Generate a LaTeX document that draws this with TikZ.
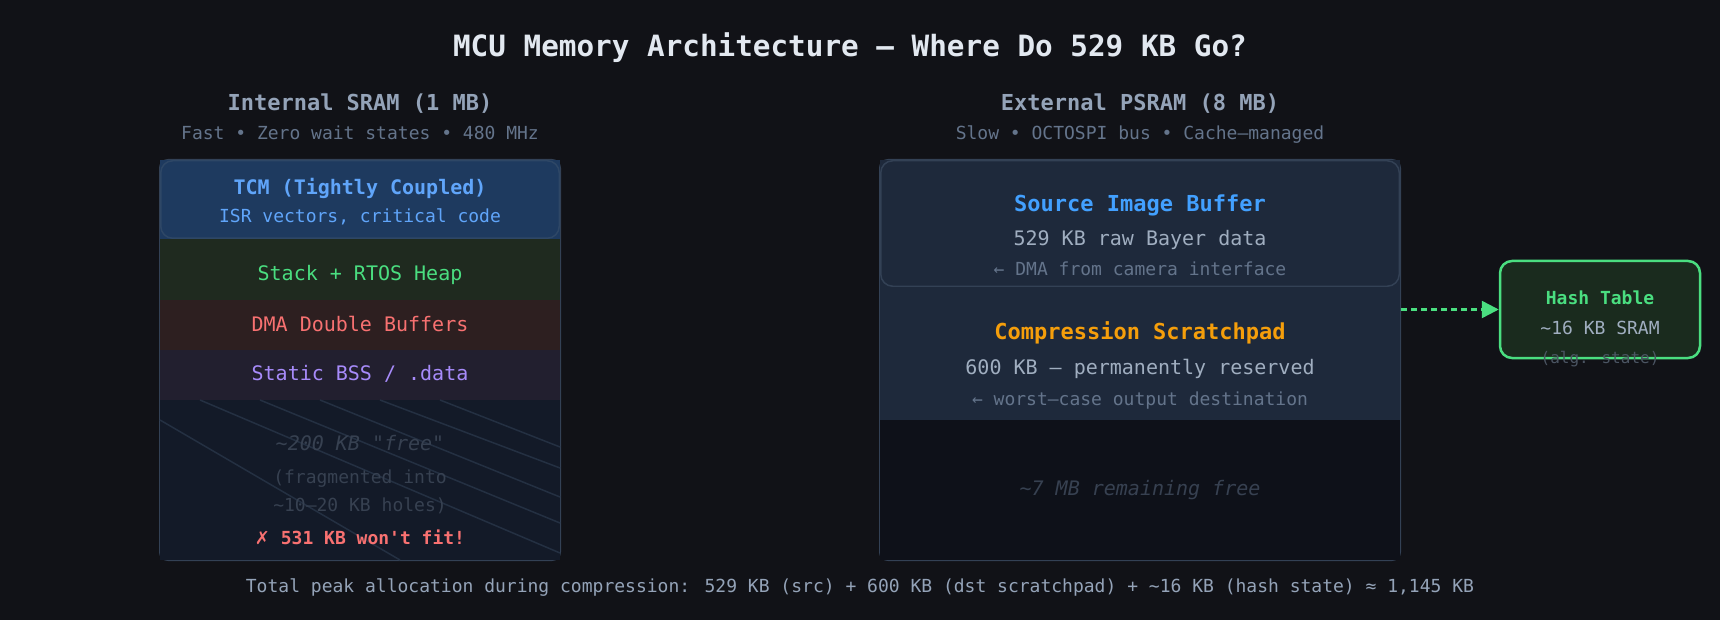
\documentclass[tikz,border=0pt]{standalone}
\usepackage{fontspec}
\setmainfont{DejaVu Sans Mono}[Ligatures=TeXOff]
\newfontfamily\symf{DejaVu Sans}
\usetikzlibrary{arrows.meta}
\definecolor{bg}{HTML}{111217}
\definecolor{titlec}{HTML}{E2E8F0}
\definecolor{headc}{HTML}{94A3B8}
\definecolor{subc}{HTML}{64748B}
\definecolor{edge}{HTML}{334155}
\definecolor{tcmbg}{HTML}{1E3A5F}
\definecolor{tcmedge}{HTML}{2E4766}
\definecolor{blue1}{HTML}{60A5FA}
\definecolor{stackbg}{HTML}{1F2A1F}
\definecolor{green1}{HTML}{4ADE80}
\definecolor{dmabg}{HTML}{2D1F20}
\definecolor{red1}{HTML}{F87171}
\definecolor{bssbg}{HTML}{221F2F}
\definecolor{purple1}{HTML}{A78BFA}
\definecolor{freebg}{HTML}{131A28}
\definecolor{dimc}{HTML}{374151}
\definecolor{hatchc}{HTML}{243042}
\definecolor{slate}{HTML}{1E293B}
\definecolor{freebgr}{HTML}{0E1119}
\definecolor{blue2}{HTML}{42A0FF}
\definecolor{amber}{HTML}{F59E0B}
\definecolor{bodyc}{HTML}{A0AEC0}
\definecolor{hashbg}{HTML}{1A2B1E}
\definecolor{faintc}{HTML}{4B5563}
\newcommand\setfs[1]{\fontsize{#1}{#1}\selectfont}
\begin{document}
\begin{tikzpicture}[x=1pt,y=-1pt,
  lbl/.style={anchor=base, inner sep=0pt, outer sep=0pt},
  fillrow/.style={rectangle, inner sep=0pt, outer sep=0pt, minimum width=400pt},
  panel/.style={rectangle, draw=edge, line width=2pt, rounded corners=8pt, inner sep=0pt},
  hatch/.style={draw=hatchc, line width=1.5pt},
  hashbox/.style={rectangle, draw=green1, fill=hashbg, line width=2.5pt, rounded corners=12pt, inner sep=0pt},
  flow/.style={draw=green1, line width=2.5pt, dash pattern=on 6pt off 4pt, -{Triangle[length=17pt,width=17pt]}}
]
\fill[bg] (0,0) rectangle (1720,620);
\useasboundingbox (0,0) rectangle (1720,620);

% title
\node[lbl, text=titlec, font=\setfs{29.3}\bfseries] (title) at (850,57) {MCU Memory Architecture — Where Do 529 KB Go?};

% ---------------- left panel ----------------
\node[panel, minimum width=400pt, minimum height=400pt] (sram) at (360,360) {};
\node[lbl, text=headc, font=\setfs{22}\bfseries] (sramhead) at (360,110.5) {Internal SRAM (1 MB)};
\node[lbl, text=subc, font=\setfs{18}] (sramsub) at (360,140) {Fast • Zero wait states • 480 MHz};

\node[fillrow, fill=tcmbg, minimum height=79pt] (tcmsq) at (360,199.5) {};
\node[rectangle, inner sep=0pt, fill=tcmbg, draw=tcmedge, line width=1.5pt, rounded corners=12pt, minimum width=398.5pt, minimum height=77.5pt] (tcm) at (360,199.5) {};
\node[fillrow, fill=stackbg, minimum height=61pt] (stack) at (360,269.5) {};
\node[fillrow, fill=dmabg, minimum height=50pt] (dma) at (360,325) {};
\node[fillrow, fill=bssbg, minimum height=50pt] (bss) at (360,375) {};
\node[fillrow, fill=freebg, minimum height=160pt] (freel) at (360,480) {};

\draw[hatch] (200,400) -- (560,553);
\draw[hatch] (260,400) -- (560,523);
\draw[hatch] (320,400) -- (560,497);
\draw[hatch] (380,400) -- (560,468);
\draw[hatch] (440,400) -- (560,447);
\draw[hatch] (160,420) -- (400,560);

\node[lbl, text=blue1, font=\setfs{20}\bfseries] (tcmt) at (360,195) {TCM (Tightly Coupled)};
\node[lbl, text=blue1, font=\setfs{18}] (tcms) at (360,222.5) {ISR vectors, critical code};
\node[lbl, text=green1, font=\setfs{20}] (stackt) at (360,280) {Stack + RTOS Heap};
\node[lbl, text=red1, font=\setfs{20}] (dmat) at (360,331.5) {DMA Double Buffers};
\node[lbl, text=purple1, font=\setfs{20}] (bsst) at (360,380) {Static BSS / .data};
\node[lbl, text=dimc, font=\setfs{20}\itshape] (freet1) at (360,450.5) {\textasciitilde200 KB "free"};
\node[lbl, text=dimc, font=\setfs{18}] (freet2) at (360,483) {(fragmented into};
\node[lbl, text=dimc, font=\setfs{18}] (freet3) at (360,511.5) {\textasciitilde10–20 KB holes)};
\node[lbl, text=red1, font=\setfs{18}\bfseries] (nofit) at (360,544) {{\symf\mdseries ✗} 531 KB won't fit!};

% ---------------- right panel ----------------
\node[panel, minimum width=520pt, minimum height=400pt] (psram) at (1140,360) {};
\node[lbl, text=headc, font=\setfs{22}\bfseries] (psramhead) at (1140,110.5) {External PSRAM (8 MB)};
\node[lbl, text=subc, font=\setfs{18}] (psramsub) at (1140,140) {Slow • OCTOSPI bus • Cache–managed};

\node[rectangle, inner sep=0pt, outer sep=0pt, fill=slate, minimum width=520pt, minimum height=127pt] (srcsq) at (1140,223.5) {};
\node[rectangle, inner sep=0pt, fill=slate, draw=edge, line width=1.5pt, rounded corners=12pt, minimum width=518.5pt, minimum height=125.5pt] (src) at (1140,223.5) {};
\node[rectangle, inner sep=0pt, outer sep=0pt, fill=slate, minimum width=520pt, minimum height=133pt] (scratch) at (1140,353.5) {};
\node[rectangle, inner sep=0pt, outer sep=0pt, fill=freebgr, minimum width=520pt, minimum height=140pt] (freer) at (1140,490) {};

\node[lbl, text=blue2, font=\setfs{22}\bfseries] (srct) at (1140,211.5) {Source Image Buffer};
\node[lbl, text=bodyc, font=\setfs{20}] (srcs) at (1140,246) {529 KB raw Bayer data};
\node[lbl, text=subc, font=\setfs{18}] (srcn) at (1140,276) {← DMA from camera interface};
\node[lbl, text=amber, font=\setfs{22}\bfseries] (scrt) at (1140,339) {Compression Scratchpad};
\node[lbl, text=bodyc, font=\setfs{20}] (scrs) at (1140,374) {600 KB — permanently reserved};
\node[lbl, text=subc, font=\setfs{18}] (scrn) at (1140,405) {← worst–case output destination};
\node[lbl, text=dimc, font=\setfs{20}\itshape] (freert) at (1140,495) {\textasciitilde7 MB remaining free};

% ---------------- hash table ----------------
\node[hashbox, minimum width=200pt, minimum height=97pt] (hash) at (1600,309.5) {};
\draw[flow] (psram.east |- hash.west) -- (hash.west);
\node[lbl, text=green1, font=\setfs{18}\bfseries] (hasht) at (1600,304) {Hash Table};
\node[lbl, text=bodyc, font=\setfs{18}] (hashs) at (1600,334) {\textasciitilde16 KB SRAM};
\node[lbl, text=faintc, font=\setfs{16}] (hashn) at (1600,363) {(alg. state)};

% footer
\node[lbl, text=headc, font=\setfs{18}] (total) at (860,592) {Total peak allocation during compression: 529 KB (src) + 600 KB (dst scratchpad) + \textasciitilde16 KB (hash state) ≈ 1,145 KB};
\end{tikzpicture}
\end{document}
